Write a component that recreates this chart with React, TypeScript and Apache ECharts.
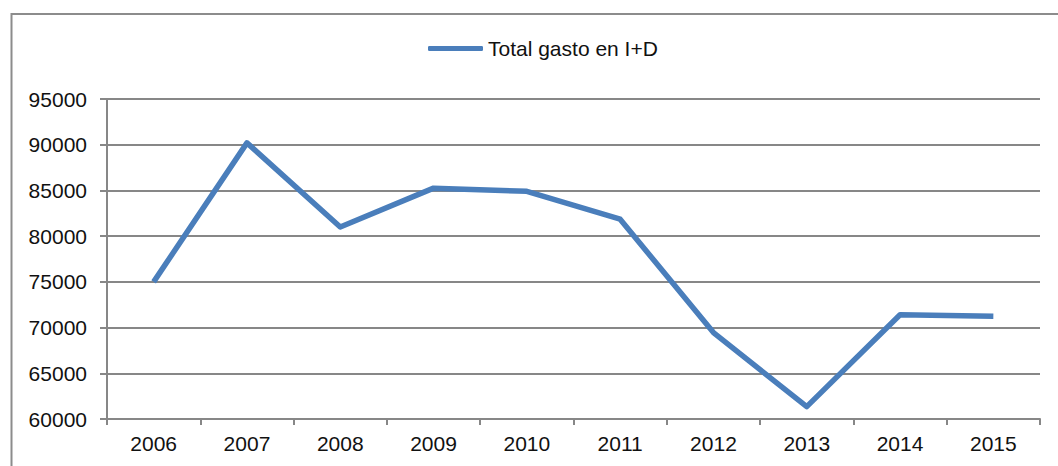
import React, { useEffect, useRef } from "react";
import * as echarts from "echarts";

const years = ["2006", "2007", "2008", "2009", "2010", "2011", "2012", "2013", "2014", "2015"];
const gastoID = [75000, 90200, 81000, 85250, 84900, 81850, 69450, 61350, 71400, 71250];
const seriesName = "Total gasto en I+D";

export default function App() {
  const ref = useRef<HTMLDivElement>(null);
  useEffect(() => {
    if (!ref.current) return;
    const chart = echarts.init(ref.current, null, { renderer: "svg" });
    const gray = "#878787";
    const font = "'Liberation Sans', Arial, Helvetica, sans-serif";
    chart.setOption({
      animation: false,
      backgroundColor: "#ffffff",
      graphic: [
        {
          type: "rect",
          shape: { x: 11.5, y: 14, width: 1100, height: 500 },
          style: { fill: "none", stroke: "#8c8c8c", lineWidth: 2 },
          silent: true,
        },
      ],
      legend: {
        data: [seriesName],
        top: 33,
        left: 423,
        icon: "roundRect",
        itemWidth: 55,
        itemHeight: 5,
        textStyle: { fontSize: 21, color: "#111", fontFamily: font },
      },
      grid: { left: 107, right: 18, top: 99, bottom: 47 },
      xAxis: {
        type: "category",
        data: years,
        boundaryGap: true,
        axisLine: { show: true, lineStyle: { color: gray, width: 2 } },
        axisTick: { show: true, length: 6, alignWithLabel: false, lineStyle: { color: gray, width: 2 } },
        axisLabel: { fontSize: 21, color: "#111", fontFamily: font, margin: 14 },
        splitLine: { show: false },
      },
      yAxis: {
        type: "value",
        min: 60000,
        max: 95000,
        interval: 5000,
        axisLine: { show: true, lineStyle: { color: gray, width: 2 } },
        axisTick: { show: true, length: 7, lineStyle: { color: gray, width: 2 } },
        axisLabel: {
          fontSize: 21,
          color: "#111",
          fontFamily: font,
          margin: 20,
          formatter: (v: number) => String(v),
        },
        splitLine: { show: true, lineStyle: { color: gray, width: 2 } },
      },
      series: [
        {
          name: seriesName,
          type: "line",
          data: gastoID,
          symbol: "none",
          lineStyle: { color: "#4a7ebb", width: 5.5, join: "round" },
          itemStyle: { color: "#4a7ebb" },
        },
      ],
    });
    return () => chart.dispose();
  }, []);
  return (
    <div
      ref={ref}
      style={{ position: "absolute", left: 0, top: 0, width: 1058, height: 466 }}
    />
  );
}
